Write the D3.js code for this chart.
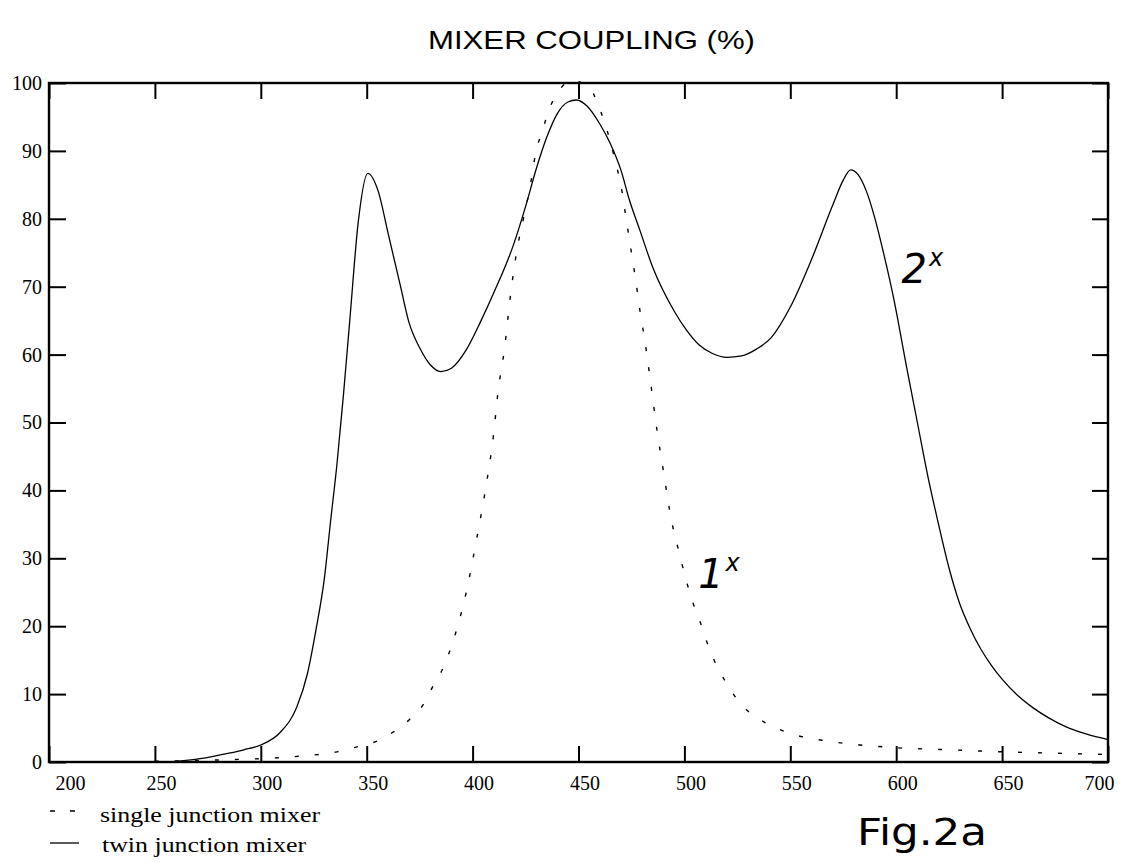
<!DOCTYPE html>
<html lang="en">
<head>
<meta charset="UTF-8">
<title>Mixer Coupling</title>
<script src="https://d3js.org/d3.v7.min.js"></script>
<style>
  body { margin: 0; background: #fff; }
  svg { display: block; }
</style>
</head>
<body>
<div id="chart"></div>
<script>
// frequency values (x) and coupling in % (y)
const singleFreq = [250, 280, 300, 320, 336, 345, 355, 363, 370, 377, 381, 386, 392, 397, 402, 406, 410, 412, 415, 418, 421, 424, 427, 430, 433, 436, 440, 444, 447.5, 451, 455, 459, 462.5, 465, 467.5, 470, 472.5, 475, 477, 479, 481.5, 484, 487, 490, 494, 497, 501, 504, 507, 512, 520, 530, 540, 550, 565, 580, 600, 625, 650, 675, 700];
const singleVal  = [0.1, 0.3, 0.5, 0.9, 1.5, 2.2, 3.1, 4.5, 6.2, 8.6, 11, 13.8, 19, 25, 33, 40, 48.5, 54.5, 60.7, 69, 75.5, 80, 84.5, 90, 93, 96, 98.5, 100, 100.4, 100.1, 99.5, 97, 94, 91.4, 88.3, 85, 80, 75, 71, 66.5, 61.7, 56, 49, 43, 35.4, 31.5, 26.6, 23.5, 21, 16.5, 11.5, 7.5, 5.5, 4.2, 3.2, 2.6, 2.1, 1.8, 1.5, 1.3, 1.1];

const twinFreq = [250, 260, 267, 277, 285, 292, 300, 309, 317, 322, 326, 330, 333, 336, 339, 342, 346, 350.5, 355.5, 360, 366, 370, 375, 380, 385, 390, 397, 404, 410, 419, 425, 430, 435, 440, 445, 449, 454, 460, 465, 470, 474, 479, 485, 495, 501, 507, 513, 520, 527, 534, 541, 550, 560, 570, 575, 578.5, 582, 586, 590, 594, 599, 605, 610, 615, 620, 625, 630, 635, 640, 645, 650, 657, 665, 672, 680, 690, 700];
const twinVal  = [0, 0.1, 0.3, 0.8, 1.3, 1.8, 2.5, 4.3, 8.1, 13, 19.4, 27, 35.6, 44, 54, 65, 79.5, 86.7, 84, 78, 70, 64.7, 61, 58.5, 57.5, 58, 60.7, 65, 69.1, 75.9, 81.8, 87.3, 92, 95.5, 97.2, 97.5, 96.6, 94, 91.1, 87.2, 82.8, 78.3, 72.9, 66.5, 63.6, 61.4, 60.2, 59.6, 59.8, 60.8, 62.5, 67, 74, 82, 85.7, 87.2, 86.5, 84, 80, 75, 68, 58, 50, 42, 35, 28.5, 23.3, 19.6, 16.6, 14.2, 12.2, 9.9, 7.9, 6.5, 5.2, 4.1, 3.3];

const xTicks = [200, 250, 300, 350, 400, 450, 500, 550, 600, 650, 700];
const yTicks = [0, 10, 20, 30, 40, 50, 60, 70, 80, 90, 100];

const W = 1129, H = 863;
const plotL = 49, plotR = 1108, plotT = 83, plotB = 762;

const svg = d3.select("#chart").append("svg")
  .attr("width", W)
  .attr("height", H);

svg.append("rect").attr("width", W).attr("height", H).attr("fill", "#fff");

const x = d3.scaleLinear().domain([200, 700]).range([plotL, plotR]);
const y = d3.scaleLinear().domain([0, 100]).range([plotB, plotT]);

// title
svg.append("text")
  .attr("x", 428)
  .attr("y", 49)
  .attr("textLength", 327)
  .attr("lengthAdjust", "spacingAndGlyphs")
  .style("font-family", "'Liberation Sans', Arial, sans-serif")
  .style("font-size", "25px")
  .text("MIXER COUPLING (%)");

const tickFont = "'Liberation Serif', 'Times New Roman', serif";

// bottom axis with labels
const gx = svg.append("g")
  .attr("transform", `translate(0,${plotB})`)
  .call(d3.axisBottom(x).tickValues(xTicks).tickFormat(d3.format("d"))
    .tickSizeInner(-16).tickSizeOuter(0).tickPadding(14));
gx.select(".domain").remove();
gx.selectAll("line").attr("stroke-width", 2);
gx.selectAll("text")
  .attr("dx", d => d === 200 ? 21 : d === 700 ? -9 : 6)
  .style("font-family", tickFont)
  .style("font-size", "20px")
  .attr("fill", "#000");

// top axis, ticks only
const gxt = svg.append("g")
  .attr("transform", `translate(0,${plotT})`)
  .call(d3.axisTop(x).tickValues(xTicks).tickFormat("").tickSizeInner(-16).tickSizeOuter(0));
gxt.select(".domain").remove();
gxt.selectAll("line").attr("stroke-width", 2);

// left axis with labels
const gy = svg.append("g")
  .attr("transform", `translate(${plotL},0)`)
  .call(d3.axisLeft(y).tickValues(yTicks).tickFormat(d3.format("d"))
    .tickSizeInner(-17).tickSizeOuter(0).tickPadding(7));
gy.select(".domain").remove();
gy.selectAll("line").attr("stroke-width", 2);
gy.selectAll("text")
  .style("font-family", tickFont)
  .style("font-size", "20px")
  .attr("fill", "#000");

// right axis, ticks only
const gyr = svg.append("g")
  .attr("transform", `translate(${plotR},0)`)
  .call(d3.axisRight(y).tickValues(yTicks).tickFormat("").tickSizeInner(-16).tickSizeOuter(0));
gyr.select(".domain").remove();
gyr.selectAll("line").attr("stroke-width", 2);

// frame
svg.append("rect")
  .attr("x", plotL).attr("y", plotT)
  .attr("width", plotR - plotL).attr("height", plotB - plotT)
  .attr("fill", "none")
  .attr("stroke", "#000")
  .attr("stroke-width", 2.4);

const line = d3.line()
  .x(d => x(d[0]))
  .y(d => y(d[1]))
  .curve(d3.curveMonotoneX);

const single = singleFreq.map((f, i) => [f, singleVal[i]]);
const twin = twinFreq.map((f, i) => [f, twinVal[i]]);

svg.append("path")
  .datum(single)
  .attr("d", line)
  .attr("fill", "none")
  .attr("stroke", "#000")
  .attr("stroke-width", 1.4)
  .attr("stroke-dasharray", "4 16");

svg.append("path")
  .datum(twin)
  .attr("d", line)
  .attr("fill", "none")
  .attr("stroke", "#000")
  .attr("stroke-width", 1.3);

// legend
const legFont = tickFont;
svg.append("line")
  .attr("x1", 50).attr("x2", 76).attr("y1", 811).attr("y2", 811)
  .attr("stroke", "#000").attr("stroke-width", 1.3)
  .attr("stroke-dasharray", "5 15");
svg.append("text")
  .attr("x", 100).attr("y", 822)
  .attr("textLength", 220).attr("lengthAdjust", "spacingAndGlyphs")
  .style("font-family", legFont).style("font-size", "22px")
  .text("single junction mixer");
svg.append("line")
  .attr("x1", 50).attr("x2", 79).attr("y1", 843).attr("y2", 843)
  .attr("stroke", "#000").attr("stroke-width", 1.3);
svg.append("text")
  .attr("x", 102).attr("y", 852)
  .attr("textLength", 204).attr("lengthAdjust", "spacingAndGlyphs")
  .style("font-family", legFont).style("font-size", "22px")
  .text("twin junction mixer");

// handwritten annotations
const handFont = "'DejaVu Sans', sans-serif";
function curveLabel(fx, fy, num) {
  const t = svg.append("text")
    .attr("x", x(fx)).attr("y", y(fy))
    .style("font-family", handFont)
    .style("font-style", "italic")
    .style("font-size", "40px")
    .attr("fill", "#000");
  t.append("tspan").text(num);
  t.append("tspan").attr("dx", 2).attr("dy", -17).style("font-size", "24px").text("x");
}
curveLabel(506.5, 25.6, "1");
curveLabel(602.5, 70.5, "2");

svg.append("text")
  .attr("x", 857).attr("y", 845)
  .attr("textLength", 130).attr("lengthAdjust", "spacingAndGlyphs")
  .style("font-family", handFont)
  .style("font-size", "38px")
  .text("Fig.2a");
</script>
</body>
</html>
